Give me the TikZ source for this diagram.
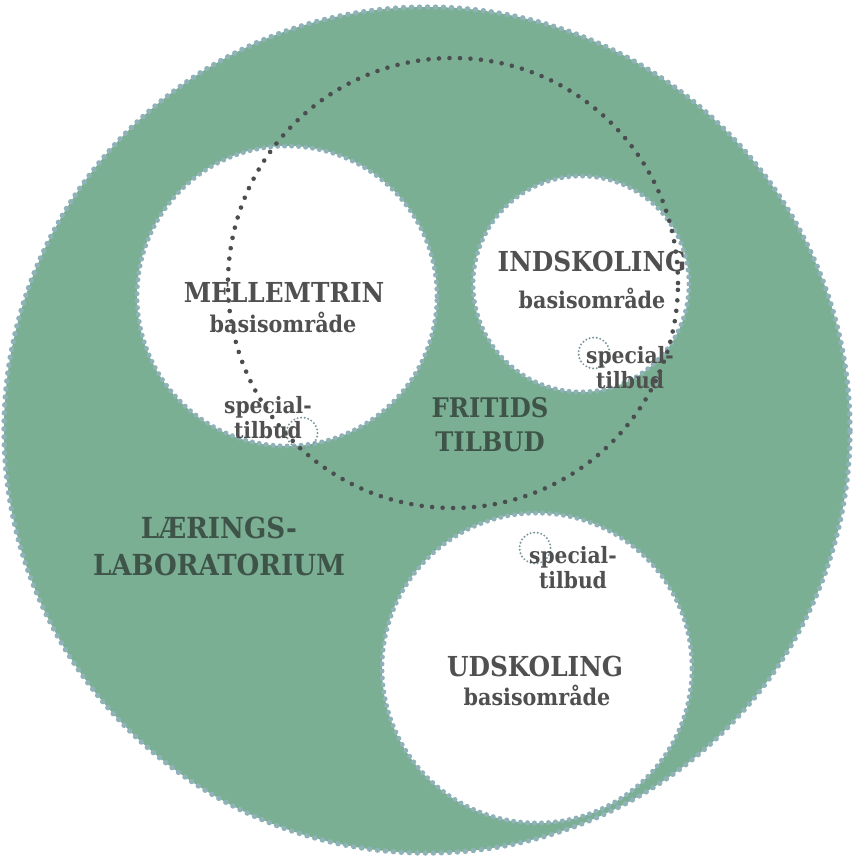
\documentclass[tikz,border=0pt]{standalone}
\usepackage{fontspec}
\setmainfont{DejaVu Serif Condensed}
\definecolor{green1}{HTML}{7BAF93}
\definecolor{edge}{HTML}{8FB2B8}
\definecolor{txt}{HTML}{505050}
\definecolor{darktxt}{HTML}{3F5448}
\definecolor{dots}{HTML}{4A4E50}
\tikzset{
  bigc/.style={circle, fill=green1, draw=edge, line width=5.5pt, dash pattern=on 0pt off 8pt, line cap=round, inner sep=0pt},
  whitec/.style={circle, fill=white, draw=edge, line width=5pt, dash pattern=on 0pt off 7pt, line cap=round, inner sep=0pt},
  fritc/.style={circle, draw=dots, line width=4.6pt, dash pattern=on 0pt off 10.5pt, line cap=round, inner sep=0pt},
  smallc/.style={circle, draw=edge!85!black, line width=2.2pt, dash pattern=on 0pt off 3.6pt, line cap=round, inner sep=0pt, minimum size=31pt},
  head/.style={font=\bfseries\fontsize{27.5}{28}\selectfont, text=txt, inner sep=0pt},
  sub/.style={font=\bfseries\fontsize{23}{24}\selectfont, text=txt, inner sep=0pt},
  spec/.style={font=\bfseries\fontsize{22.5}{25}\selectfont, text=txt, inner sep=0pt, align=center},
  lab/.style={font=\bfseries\fontsize{29}{37}\selectfont, text=darktxt, inner sep=0pt, align=center},
}
\begin{document}
\begin{tikzpicture}[x=1pt,y=-1pt]
\useasboundingbox (0,0) rectangle (853,856);
\node[bigc, minimum size=846pt] (big) at (427,430) {};
\node[whitec, minimum size=300pt] (mel) at (287,296) {};
\node[whitec, minimum size=216pt] (ind) at (581,284) {};
\node[whitec, minimum size=310pt] (uds) at (537,668) {};
\node[smallc] (s1) at (302,433) {};
\node[smallc] (s2) at (594,353) {};
\node[smallc] (s3) at (535,548) {};
\node[fritc, minimum size=450pt] (frit) at (453,283) {};
% texts
\node[head] (melt) at (284,292) {MELLEMTRIN};
\node[sub] (melb) at (283,322) {basisområde};
\node[spec] (mels) at (268,418) {special-\\tilbud};
\node[head] (indt) at (592,261) {INDSKOLING};
\node[sub] (indb) at (592,298) {basisområde};
\node[spec] (inds) at (630,368) {special-\\tilbud};
\node[head] (udst) at (535,666) {UDSKOLING};
\node[sub] (udsb) at (537,695) {basisområde};
\node[spec] (udss) at (573,568) {special-\\tilbud};
\node[lab, font=\bfseries\fontsize{27}{34}\selectfont] (fri) at (490,425) {FRITIDS\\TILBUD};
\node[lab] (lab) at (219,546) {LÆRINGS-\\LABORATORIUM};
\end{tikzpicture}
\end{document}
